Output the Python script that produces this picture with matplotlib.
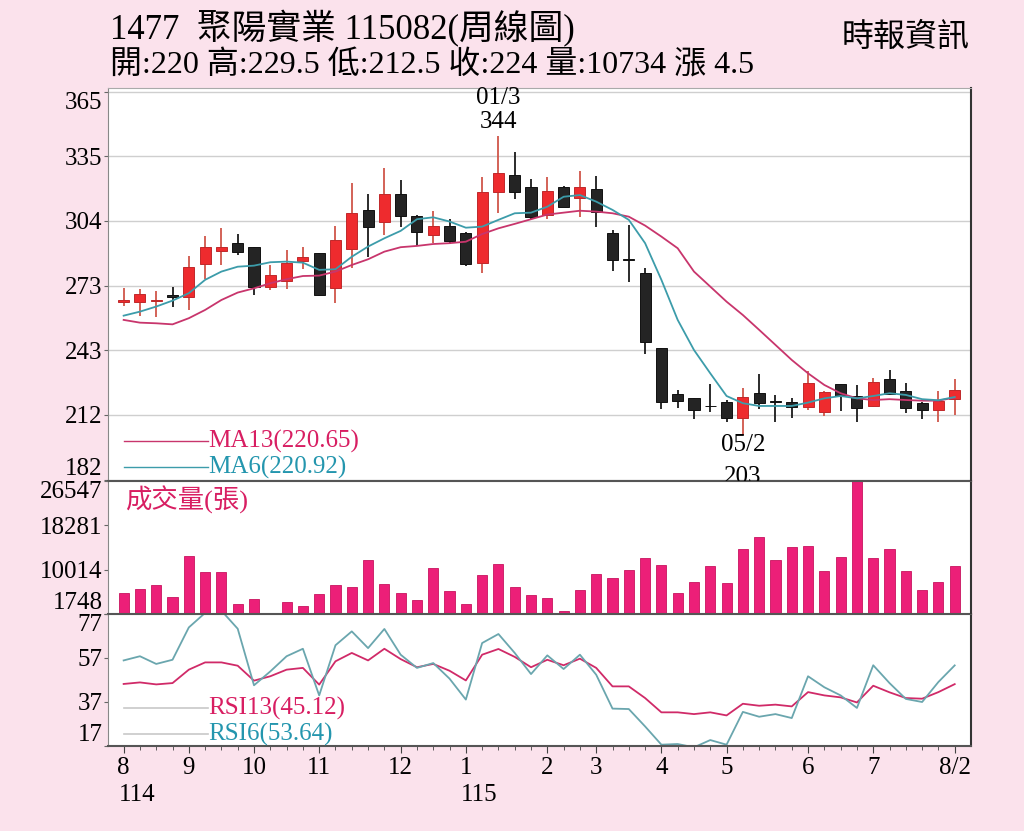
import matplotlib
matplotlib.use('Agg')
import matplotlib.pyplot as plt
import matplotlib.transforms as mtrans
import numpy as np

plt.rcParams['font.family'] = ['Liberation Serif', 'Noto Sans CJK TC']

# weekly candles, 114/08 .. 115/08
opens = [265.6, 265.9, 266.0, 268.9, 268.3, 283.7, 290.0, 293.5, 291.6, 272.7,
         275.5, 285.1, 288.7, 272.5, 290.9, 309.3, 303.4, 316.7, 306.3, 297.4,
         301.6, 298.2, 284.2, 317.7, 325.5, 320.2, 306.8, 320.2, 314.7, 319.2,
         298.2, 285.8, 279.4, 243.9, 222.2, 220.3, 216.9, 218.7, 211.2, 223.0,
         218.8, 218.6, 216.4, 213.7, 226.9, 221.4, 216.7, 229.6, 223.9, 218.0,
         214.8, 220.0]
highs = [272.4, 271.8, 271.1, 273.0, 287.5, 296.9, 300.8, 297.8, 291.9, 283.2,
         290.3, 291.9, 289.0, 301.8, 321.8, 316.6, 329.0, 323.3, 306.8, 308.8,
         304.8, 298.8, 324.9, 344.0, 336.7, 323.7, 324.9, 320.5, 327.7, 325.4,
         299.7, 302.1, 281.7, 243.9, 224.3, 220.5, 227.1, 219.4, 225.1, 231.7,
         221.9, 220.4, 233.4, 223.6, 226.9, 226.6, 229.7, 233.7, 227.7, 218.7,
         223.9, 229.5]
lows = [263.9, 259.2, 258.8, 263.3, 262.0, 276.5, 283.2, 288.0, 268.9, 271.4,
        271.8, 281.3, 268.5, 265.2, 281.7, 287.1, 297.4, 301.3, 292.3, 293.7,
        293.1, 282.9, 279.6, 307.6, 314.4, 305.0, 304.9, 310.4, 305.7, 301.0,
        280.4, 275.3, 241.2, 215.2, 215.6, 210.4, 214.0, 209.3, 203.0, 215.2,
        209.3, 211.2, 214.8, 212.2, 214.4, 209.3, 216.0, 221.9, 213.6, 210.4,
        209.3, 212.5]
closes = [266.7, 269.5, 266.7, 268.3, 282.4, 291.6, 291.9, 289.5, 273.0, 278.5,
          284.0, 287.1, 269.1, 294.9, 307.6, 301.2, 316.7, 306.5, 298.9, 301.8,
          294.7, 283.8, 317.7, 326.5, 317.7, 306.0, 318.3, 310.7, 320.2, 308.4,
          285.6, 285.4, 247.0, 218.7, 219.2, 214.8, 216.5, 211.2, 221.1, 218.0,
          218.6, 216.4, 227.7, 223.5, 221.4, 215.6, 228.2, 222.2, 215.6, 214.8,
          219.2, 224.0]
ma6 = [259.3, 261.2, 263.6, 266.4, 269.9, 276.2, 280.1, 282.4, 282.9, 284.5,
       284.8, 284.3, 280.9, 281.2, 287.1, 291.9, 295.8, 299.3, 304.8, 305.7,
       303.7, 300.8, 301.3, 304.5, 307.6, 307.9, 310.7, 315.4, 316.2, 313.1,
       309.2, 304.5, 293.5, 276.2, 257.3, 243.1, 232.1, 221.4, 218.0, 216.7,
       216.7, 216.7, 218.3, 220.3, 221.4, 220.3, 221.4, 222.7, 221.9, 219.9,
       219.4, 220.92]
ma13 = [257.3, 256.0, 255.7, 255.2, 258.1, 262.0, 266.7, 270.2, 272.2, 274.6,
        276.5, 278.0, 278.2, 280.1, 283.2, 285.9, 289.5, 291.6, 292.2, 293.1,
        293.5, 294.2, 297.8, 300.5, 302.6, 304.8, 307.0, 307.9, 308.8, 308.4,
        307.6, 306.0, 301.8, 296.6, 291.1, 280.1, 273.0, 265.9, 259.6, 252.6,
        245.5, 238.4, 232.1, 226.6, 222.7, 220.3, 219.5, 219.9, 219.5, 219.2,
        219.2, 220.65]
volumes = [5608, 6353, 7155, 4918, 12506, 9635, 9635, 3613, 4545, 1900,
           4041, 3296, 5421, 7155, 6782, 11817, 7398, 5608, 4414, 10381,
           5981, 3557, 9076, 11015, 6838, 5291, 4787, 2307, 6279, 9150,
           8404, 10008, 12246, 10884, 5608, 7771, 10642, 7528, 13868, 16162,
           11761, 14241, 14483, 9766, 12376, 26547, 12134, 13868, 9766, 6167,
           7659, 10734]
rsi6 = [55.9, 57.8, 54.3, 56.2, 70.9, 77.5, 78.5, 70.3, 44.6, 50.9,
        57.8, 61.2, 40.0, 62.8, 69.1, 61.5, 70.2, 58.5, 52.5, 54.7,
        47.6, 38.1, 63.8, 67.9, 59.3, 49.7, 58.2, 52.0, 58.5, 49.4,
        34.0, 33.8, 25.9, 17.6, 17.9, 16.4, 19.7, 17.6, 32.5, 30.3,
        31.5, 29.7, 48.7, 43.7, 40.0, 34.3, 53.7, 45.6, 38.4, 37.0,
        46.1, 53.64]
rsi13 = [45.2, 45.9, 45.0, 45.6, 51.7, 55.0, 55.0, 53.5, 46.7, 48.7,
         51.7, 52.5, 44.9, 55.5, 59.3, 55.9, 61.2, 56.5, 52.8, 54.3,
         51.2, 46.8, 58.5, 61.1, 57.5, 52.8, 56.2, 53.7, 56.7, 52.5,
         44.1, 44.1, 38.8, 32.3, 32.3, 31.5, 32.3, 30.9, 36.2, 35.3,
         35.8, 35.0, 41.5, 40.0, 39.1, 36.8, 44.4, 41.4, 38.8, 38.5,
         41.5, 45.12]

month_pos = [0, 4, 8, 12, 17, 21, 26, 29, 33, 37, 42, 46, 51]
month_lab = ['8', '9', '10', '11', '12', '1', '2', '3', '4', '5', '6', '7', '8/2']
year_pos = [0, 21]
year_lab = ['114', '115']

price_ticks = [182, 212.5, 243, 273.5, 304, 334.5, 365]
price_lab = ['182', '212', '243', '273', '304', '335', '365']
vol_ticks = [1748, 10014, 18281, 26547]
rsi_ticks = [17, 37, 57, 77]

BG = '#FBE2EC'
RED = '#EE2B2E'
BLACK = '#242424'
MA13_C = '#C8356C'
MA6_C = '#3C9CAA'
PINK = '#EC1F78'

W, H = 1024, 831
fig = plt.figure(figsize=(W / 100, H / 100), dpi=100, facecolor=BG)


def box(top, bottom):
    return [108 / W, 1 - bottom / H, (971 - 108) / W, (bottom - top) / H]


ax1 = fig.add_axes(box(88, 481))
ax2 = fig.add_axes(box(481, 614), sharex=ax1)
ax3 = fig.add_axes(box(614, 746), sharex=ax1)

x = np.arange(len(closes))
o, h, l, c = (np.array(v) for v in (opens, highs, lows, closes))
up = c >= o

# candles
ax1.vlines(x, l, h, colors=np.where(up, '#D0564A', '#1A1A1A'), linewidth=1.3, zorder=2)
ax1.bar(x, np.maximum(np.abs(c - o), 0.3), bottom=np.minimum(o, c), width=0.68,
        color=np.where(up, RED, BLACK), edgecolor=np.where(up, '#C0282A', '#111111'),
        linewidth=0.7, zorder=3)
ax1.plot(x, ma13, color=MA13_C, lw=1.3, zorder=4)
ax1.plot(x, ma6, color=MA6_C, lw=1.3, zorder=4)

ax1.set_xlim(-0.96, 52.0)
ax1.set_ylim(181.3, 366.7)
ax1.set_yticks(price_ticks, price_lab)
ax1.yaxis.grid(True, color='#CFCFCF', lw=1.0)
ax1.set_axisbelow(True)

# high / low marks
ax1.text(23, 362, '01/3', ha='center', va='center', fontsize=18)
ax1.text(23, 350.7, '344', ha='center', va='center', fontsize=18)
ax1.text(38, 198.3, '05/2', ha='center', va='center', fontsize=18)
ax1.text(38, 183.2, '203', ha='center', va='center', fontsize=18, clip_on=False)

# MA legend
ax1.plot([0.0185, 0.1159], [0.1018, 0.1018], transform=ax1.transAxes, color=MA13_C, lw=1)
ax1.text(0.1159, 0.1018, 'MA13(220.65)', transform=ax1.transAxes, color='#D81E62',
         fontsize=18, va='center')
ax1.plot([0.0185, 0.1159], [0.0356, 0.0356], transform=ax1.transAxes, color=MA6_C, lw=1)
ax1.text(0.1159, 0.0356, 'MA6(220.92)', transform=ax1.transAxes, color='#2496AE',
         fontsize=18, va='center')

# volume
ax2.bar(x, volumes, width=0.62, color=PINK, edgecolor='#C8145E', linewidth=0.6)
ax2.set_ylim(1748, 26547)
ax2.set_yticks(vol_ticks, [str(v) for v in vol_ticks])
ax2.text(0.0197, 0.857, '成交量(張)', transform=ax2.transAxes, color='#D81E62',
         fontsize=19, va='center')

# RSI
ax3.plot(x, rsi13, color='#D02A68', lw=1.3)
ax3.plot(x, rsi6, color='#6AA6AE', lw=1.3)
ax3.set_ylim(17, 77)
ax3.set_yticks(rsi_ticks, [str(v) for v in rsi_ticks])
ax3.plot([0.0185, 0.1159], [0.288, 0.288], transform=ax3.transAxes, color='#C8C8C8', lw=1.2)
ax3.text(0.1159, 0.288, 'RSI13(45.12)', transform=ax3.transAxes, color='#D81E62',
         fontsize=18, va='center')
ax3.plot([0.0185, 0.1159], [0.091, 0.091], transform=ax3.transAxes, color='#C8C8C8', lw=1.2)
ax3.text(0.1159, 0.091, 'RSI6(53.64)', transform=ax3.transAxes, color='#2496AE',
         fontsize=18, va='center')

ax3.set_xticks(month_pos, month_lab)
ax3.set_xticks(x, minor=True)
ax3.tick_params(axis='x', which='major', length=5, labelsize=18, pad=3, color='#444')
ax3.tick_params(axis='x', which='minor', length=3, color='#444')
yr = mtrans.blended_transform_factory(ax3.transData, ax3.transAxes)
for p, t in zip(year_pos, year_lab):
    ax3.text(p - 0.3, -0.37, t, transform=yr, ha='left', va='center', fontsize=18)

for ax in (ax1, ax2, ax3):
    ax.set_facecolor('white')
    ax.tick_params(axis='y', length=3, pad=1, labelsize=18, color='#666')
    ticks = ax.yaxis.get_major_ticks()
    ticks[0].label1.set_verticalalignment('bottom')
    ticks[-1].label1.set_verticalalignment('top')
    ax.spines['left'].set_color('#888888')
    ax.spines['right'].set_color('#333333')
    ax.spines['right'].set_linewidth(1.5)
    ax.spines['top'].set_color('#555555')
    ax.spines['bottom'].set_color('#555555')
    ax.spines['bottom'].set_linewidth(1.5)
ax1.spines['top'].set_color('#AAAAAA')
for ax in (ax1, ax2):
    ax.tick_params(axis='x', which='both', bottom=False, labelbottom=False)

# header
fig.text(110 / W, 1 - 29 / H, '1477  聚陽實業 115082(周線圖)', fontsize=25, va='center')
fig.text(110 / W, 1 - 66 / H, '開:220 高:229.5 低:212.5 收:224 量:10734 漲 4.5',
         fontsize=23, va='center')
fig.text(970 / W, 1 - 38 / H, '時報資訊', fontsize=23, va='center', ha='right')

fig.savefig('out.png', dpi=100, facecolor=BG)
